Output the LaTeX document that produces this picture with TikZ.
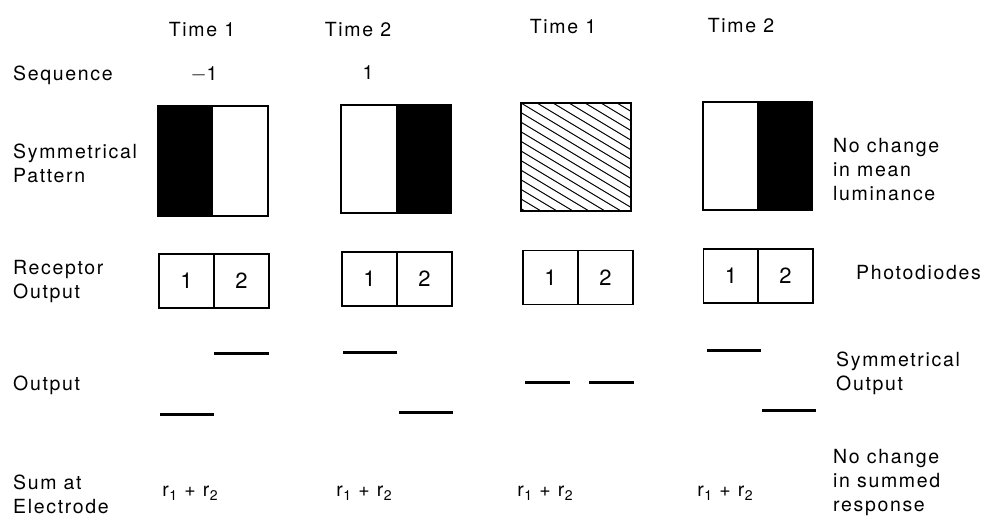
\documentclass[tikz,border=0pt]{standalone}
\usepackage{fontspec}
\setmainfont{TeX Gyre Heros}[LetterSpace=8.5]
\newcommand{\rsub}[1]{r\kern0.5pt\raisebox{-3.5pt}{\fontsize{14}{14}\selectfont #1}}
\begin{document}
\begin{tikzpicture}[x=1pt,y=-1pt,
  lab/.style={font=\fontsize{19.5}{24}\selectfont, inner sep=0pt, align=left},
  ctr/.style={font=\fontsize{19.5}{24}\selectfont, inner sep=0pt},
  frame/.style={draw=black, line width=1.4pt},
  cell/.style={draw=black, line width=1.4pt, minimum width=55pt, minimum height=54pt, inner sep=0pt, font=\fontsize{22}{24}\selectfont},
  bar/.style={line width=3pt},
  hatchline/.style={line width=1pt}]
\useasboundingbox (0,0) rectangle (982,529);

% headings
\node[ctr] (t1) at (202,30) {Time 1};
\node[ctr] (t2) at (358,30) {Time 2};
\node[ctr] (t3) at (563,27) {Time 1};
\node[ctr] (t4) at (741,26) {Time 2};

% row labels
\node[lab, anchor=west] (lseq) at (13,75) {Sequence};
\node[ctr] (sq1) at (204,74) {$-$1};
\node[ctr] (sq2) at (368,73) {1};
\node[lab, anchor=west] (lsym) at (13,163) {Symmetrical\\Pattern};
\node[lab, anchor=west] (lrec) at (13,282) {Receptor\\Output};
\node[lab, anchor=west] (lout) at (13,385) {Output};
\node[lab, anchor=west] (lsum) at (13,494) {Sum at\\Electrode};

% right labels
\node[lab, anchor=west] (rlum) at (833,170) {No change\\in mean\\luminance};
\node[lab, anchor=west] (rpho) at (856,273) {Photodiodes};
\node[lab, anchor=west] (rsym) at (836,373) {Symmetrical\\Output};
\node[lab, anchor=west] (rsum) at (833,483) {No change\\in summed\\response};

% pattern boxes
\fill[black] (158,106) rectangle (213,216);
\draw[frame] (158,106) rectangle (268,216);
\fill[black] (396,105) rectangle (451,213);
\draw[frame] (341,105) rectangle (451,213);
\begin{scope}
  \clip (521,103) rectangle (631,211);
  \foreach \s in {-192,-176,...,110} \draw[hatchline] (521+\s,103) -- ++(250,150);
\end{scope}
\draw[frame] (521,103) rectangle (631,211);
\fill[black] (757,102) rectangle (812,210);
\draw[frame] (703,102) rectangle (812,210);

% receptor cells
\node[cell] (a1) at (186.5,281) {1};
\node[cell] (a2) at (241.5,281) {2};
\node[cell] (b1) at (369.5,279) {1};
\node[cell] (b2) at (424.5,279) {2};
\node[cell] (c1) at (550.5,277.5) {1};
\node[cell] (c2) at (605.5,277.5) {2};
\node[cell] (d1) at (731,276) {1};
\node[cell] (d2) at (785.5,276) {2};

% output bars
\draw[bar] (214,353) -- (269,353);
\draw[bar] (160,414) -- (214,414);
\draw[bar] (343,352) -- (397,352);
\draw[bar] (399,412) -- (453,412);
\draw[bar] (525,382) -- (570,382);
\draw[bar] (589,382) -- (634,382);
\draw[bar] (707,350) -- (761,350);
\draw[bar] (762,410) -- (816,410);

% sums
\node[ctr] (s1) at (190,493) {\rsub{1} + \rsub{2}};
\node[ctr] (s2) at (364,493) {\rsub{1} + \rsub{2}};
\node[ctr] (s3) at (545,493) {\rsub{1} + \rsub{2}};
\node[ctr] (s4) at (725,493) {\rsub{1} + \rsub{2}};
\end{tikzpicture}
\end{document}
